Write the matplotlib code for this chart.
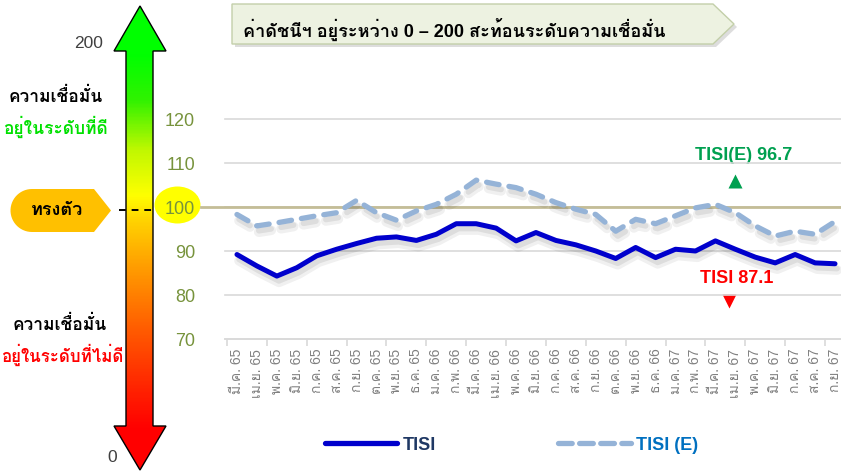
import matplotlib
matplotlib.use('Agg')
import matplotlib.pyplot as plt
import numpy as np
from matplotlib.patches import Polygon, Ellipse
from matplotlib.lines import Line2D
import matplotlib.patheffects as pe
from matplotlib.colors import LinearSegmentedColormap

# ---------------- data ----------------
months = ['มี.ค. 65', 'เม.ย. 65', 'พ.ค. 65', 'มิ.ย. 65', 'ก.ค. 65', 'ส.ค. 65', 'ก.ย. 65',
          'ต.ค. 65', 'พ.ย. 65', 'ธ.ค. 65', 'ม.ค. 66', 'ก.พ. 66', 'มี.ค. 66', 'เม.ย. 66',
          'พ.ค. 66', 'มิ.ย. 66', 'ก.ค. 66', 'ส.ค. 66', 'ก.ย. 66', 'ต.ค. 66', 'พ.ย. 66',
          'ธ.ค. 66', 'ม.ค. 67', 'ก.พ. 67', 'มี.ค. 67', 'เม.ย. 67', 'พ.ค. 67', 'มิ.ย. 67',
          'ก.ค. 67', 'ส.ค. 67', 'ก.ย. 67']
tisi = [89.2, 86.6, 84.3, 86.2, 88.9, 90.4, 91.7, 92.9, 93.2, 92.4, 93.8, 96.2, 96.2,
        95.2, 92.3, 94.2, 92.4, 91.4, 90.0, 88.3, 90.8, 88.5, 90.4, 90.0, 92.3, 90.4,
        88.6, 87.3, 89.2, 87.3, 87.1]
tisi_e = [98.3, 95.7, 96.4, 97.2, 98.0, 98.7, 101.5, 98.7, 97.0, 99.1, 100.6, 102.9,
          106.1, 105.2, 104.4, 102.9, 101.0, 99.5, 98.3, 94.5, 97.2, 96.2, 98.0, 99.8,
          100.6, 98.7, 95.7, 93.4, 94.5, 93.8, 96.7]
yticks = [70, 80, 90, 100, 110, 120]
series_names = ['TISI', 'TISI (E)']
title_text = 'ค่าดัชนีฯ อยู่ระหว่าง 0 – 200 สะท้อนระดับความเชื่อมั่น'

# ---------------- fonts ----------------
FAM = ['Liberation Sans', 'Loma', 'Noto Sans Thai', 'DejaVu Sans']
plt.rcParams['font.family'] = FAM

W, H = 841, 473
fig = plt.figure(figsize=(W / 100, H / 100), dpi=100)
fig.patch.set_facecolor('white')

# overlay axes in pixel coordinates
ax0 = fig.add_axes([0, 0, 1, 1])
ax0.set_xlim(0, W)
ax0.set_ylim(H, 0)
ax0.axis('off')

# gradient arrow
arrow_pts = [(140, 6), (166, 51), (153, 51), (153, 426), (166, 426), (140, 470),
             (114, 426), (126, 426), (126, 51), (114, 51)]
ax0.add_patch(Polygon(arrow_pts, closed=True, facecolor='none', edgecolor='black', lw=1.0, zorder=3))
stops = [(0, '#00FF00'), (55, '#00FF00'), (100, '#30F200'), (150, '#C0F800'),
         (196, '#FFFF00'), (220, '#FFD400'), (265, '#FFA000'), (330, '#FF5C00'),
         (395, '#FF1E00'), (430, '#FF0000'), (473, '#FF0000')]
cmap = LinearSegmentedColormap.from_list('arr', [(s / H, c) for s, c in stops])
grad = np.linspace(0, 1, 400).reshape(-1, 1)
im = ax0.imshow(grad, cmap=cmap, extent=(110, 170, H, 0), origin='upper',
                aspect='auto', zorder=2, interpolation='bilinear')
im.set_clip_path(Polygon(arrow_pts, closed=True, transform=ax0.transData))

ax0.text(103, 43, '200', ha='right', va='center', fontsize=12.5, color='#404040')
ax0.text(117, 457, '0', ha='right', va='center', fontsize=12.5, color='#404040')

ax0.text(56, 96, 'ความเชื่อมั่น', ha='center', va='center', fontsize=12.5, fontweight='bold', color='black')
ax0.text(55, 127, 'อยู่ในระดับที่ดี', ha='center', va='center', fontsize=12.5, fontweight='bold', color='#00E000')
ax0.text(60, 324, 'ความเชื่อมั่น', ha='center', va='center', fontsize=12.5, fontweight='bold', color='black')
ax0.text(62, 355, 'อยู่ในระดับที่ไม่ดี', ha='center', va='center', fontsize=12.2, fontweight='bold', color='#FF0000')

# badge "ทรงตัว"
r = 21.5
cx, cy = 32, 210.5
badge_pts = [(94, 189), (111, 210.5), (94, 232)] + \
    [(cx + r * np.cos(t), cy + r * np.sin(t)) for t in np.linspace(np.pi / 2, 3 * np.pi / 2, 30)]
ax0.add_patch(Polygon(badge_pts, closed=True, facecolor='#FFC000', edgecolor='none', zorder=3))
ax0.text(57, 210, 'ทรงตัว', ha='center', va='center', fontsize=13, fontweight='bold', color='black', zorder=4)
ax0.plot([119, 152], [210, 210], color='black', lw=1.4, dashes=(3.5, 3.0), zorder=4)

# yellow ellipse behind 100
ax0.add_patch(Ellipse((177.5, 205), 46, 37, facecolor='#FFFF00', edgecolor='none', zorder=1))

# title box
tb = [(232, 4), (713, 4), (734, 24), (713, 44), (232, 44)]
ax0.add_patch(Polygon([(x + 3, y + 3) for x, y in tb], closed=True, facecolor='#a0a0a0',
                      edgecolor='none', alpha=0.35, zorder=1))
ax0.add_patch(Polygon(tb, closed=True, facecolor='#EDF2E1', edgecolor='#C3CFA9', lw=1.0, zorder=2))
ax0.text(243, 29, title_text, ha='left', va='center', fontsize=13, fontweight='bold', color='black', zorder=3)

# ---------------- main chart ----------------
L, R, T, B = 225, 841, 119, 339
ax = fig.add_axes([L / W, (H - B) / H, (R - L) / W, (B - T) / H])
ax.patch.set_alpha(0)
x = np.arange(len(months))
ax.set_xlim(-0.6, 30.3)
ax.set_ylim(70, 120)

ax.set_yticks(yticks)
ax.set_yticklabels([str(v) for v in yticks])
ax.tick_params(axis='y', length=0, pad=21.5, labelsize=13, labelcolor='#77933C')
ax.yaxis.grid(True, color='#D9D9D9', lw=1.2)
for gl in ax.get_ygridlines():
    gl.set_clip_on(False)
ax.set_axisbelow(True)
for s in ['top', 'right', 'left']:
    ax.spines[s].set_visible(False)
ax.spines['bottom'].set_color('#D9D9D9')
ax.spines['bottom'].set_linewidth(1.2)

ax.set_xticks(x)
ax.set_xticklabels(months, rotation=90, ha='center', va='top')
ax.set_xticks(np.arange(-0.5, 30, 2), minor=True)
ax.tick_params(axis='x', which='major', length=0, pad=7, labelsize=10, labelcolor='#808080')
ax.tick_params(axis='x', which='minor', length=5, width=1.2, color='#D9D9D9')

ax.axhline(100, xmin=-24 / (R - L), xmax=1, color='#C4BD97', lw=2.0, clip_on=False, zorder=1.5)

def shadow():
    return [pe.SimpleLineShadow(offset=(1.5, -4.5), shadow_color='black', alpha=0.06, linewidth=7),
            pe.SimpleLineShadow(offset=(1.5, -3.5), shadow_color='black', alpha=0.08, linewidth=4),
            pe.Normal()]

ax.plot(x, tisi_e, color='#95B3D7', lw=3.8, dashes=(2.4, 1.9), dash_capstyle='round',
        path_effects=shadow(), zorder=3)
ax.plot(x, tisi, color='#0000CC', lw=3.6, solid_joinstyle='round', solid_capstyle='round',
        path_effects=shadow(), zorder=4)

# annotations
ax0.text(744, 155, f'TISI(E) {tisi_e[-1]}', ha='center', va='center', fontsize=13,
         fontweight='bold', color='#00A050', zorder=5)
ax0.plot([735.5], [181.5], marker='^', ms=10, color='#00A050', mec='none', zorder=5)
ax0.text(737, 278, f'TISI {tisi[-1]}', ha='center', va='center', fontsize=13,
         fontweight='bold', color='#FF0000', zorder=5)
ax0.plot([729], [300.5], marker='v', ms=10, color='#FF0000', mec='none', zorder=5)

# legend
h1 = Line2D([], [], color='#0000CC', lw=3.8, solid_capstyle='round')
h2 = Line2D([], [], color='#95B3D7', lw=3.8, dashes=(2.6, 1.4), dash_capstyle='round')
leg = fig.legend([h1, h2], series_names, loc='center', ncol=2, frameon=False,
                 bbox_to_anchor=((318 + 705) / 2 / W, 1 - 445 / H),
                 handlelength=4.0, handletextpad=0.3, columnspacing=6.8,
                 prop={'weight': 'bold', 'size': 13})
leg.get_texts()[0].set_color('#1F3864')
leg.get_texts()[1].set_color('#0070C0')

fig.savefig('out.png', dpi=100)
